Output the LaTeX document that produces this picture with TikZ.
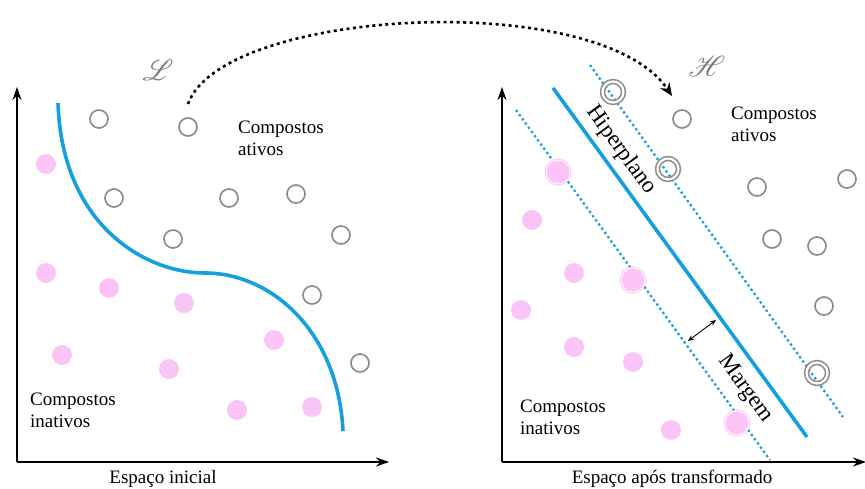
\documentclass[tikz,border=0pt]{standalone}
\usepackage{fontspec}
\setmainfont{Liberation Serif}
\usepackage{mathrsfs}
\usepackage{graphicx}
\usetikzlibrary{arrows.meta}
\definecolor{cblue}{RGB}{20,160,220}
\definecolor{cpink}{RGB}{250,196,246}
\definecolor{cgray}{RGB}{140,140,140}
\definecolor{cscript}{RGB}{120,120,120}
\tikzset{
  hollow/.style={circle, draw=cgray, line width=1.7pt, minimum size=18pt, inner sep=0pt},
  pinkdot/.style={circle, fill=cpink, minimum size=20pt, inner sep=0pt},
  svgray/.style={circle, draw=cgray, line width=1.6pt, double=white, double distance=2.2pt, minimum size=21pt, inner sep=0pt},
  svpink/.style={circle, fill=cpink, draw=cpink, line width=1pt, double=white, double distance=0.8pt, minimum size=24pt, inner sep=0pt},
  axisline/.style={line width=1.6pt, -{Stealth[length=13pt,width=9pt]}},
  lbl/.style={font=\fontsize{19}{22}\selectfont, align=left, inner sep=0pt},
  axlbl/.style={font=\fontsize{19}{22}\selectfont, inner sep=0pt},
  boundary/.style={draw=cblue, line width=3.6pt},
  margline/.style={draw=cblue, line width=2.3pt, dash pattern=on 2.3pt off 2.9pt},
  onlinelbl/.style={font=\fontsize{23}{26}\selectfont, inner sep=0pt, rotate=-54},
  scriptlbl/.style={text=cscript, inner sep=0pt}
}
\begin{document}
\begin{tikzpicture}[x=1pt,y=-1pt]
\useasboundingbox (0,0) rectangle (865,489);
% ---------- left panel ----------
\coordinate (lo) at (17,462);
\coordinate (lx) at (389,462);
\coordinate (ly) at (17,87);
\draw[axisline] (lo) -- (lx);
\draw[axisline] (lo) -- (ly);
\node[axlbl] (lxl) at (163,479) {Espaço inicial};

\coordinate (c0) at (58,103);
\coordinate (c1) at (205,273);
\coordinate (c2) at (343,431);
\draw[boundary] (c0) .. controls (62,225) and (145,273) .. (c1) .. controls (270,273) and (338,330) .. (c2);

\foreach \p [count=\i] in {(99,119),(188,127),(114,198),(229,198),(296,194),(341,235),(173,239),(312,295),(360,363)}
  \node[hollow] (lh\i) at \p {};
\foreach \p [count=\i] in {(46,164),(46,273),(109,288),(184,303),(274,340),(62,355),(169,369),(237,410),(312,407)}
  \node[pinkdot] (lp\i) at \p {};

\node[lbl, anchor=north west] (la) at (238,121) {Compostos\\ativos};
\node[lbl, anchor=north west] (li) at (30,393) {Compostos\\inativos};
\node[scriptlbl] (L) at (158,70) {\scalebox{2.9}{$\mathscr{L}$}};

% ---------- right panel ----------
\coordinate (ro) at (502,462);
\coordinate (rx) at (866,462);
\coordinate (ry) at (502,87);
\draw[axisline] (ro) -- (rx);
\draw[axisline] (ro) -- (ry);
\node[axlbl] (rxl) at (672,479) {Espaço após transformado};

\coordinate (hp1) at (553,88);
\coordinate (hp2) at (807,437);
\coordinate (up1) at (590,65);
\coordinate (up2) at (843,417);
\coordinate (lw1) at (516,110);
\coordinate (lw2) at (770,460);
\draw[margline] (up1) -- (up2);
\draw[margline] (lw1) -- (lw2);
\draw[boundary] (hp1) -- (hp2);

\foreach \p [count=\i] in {(682,119),(757,187),(847,179),(772,239),(817,246),(824,306)}
  \node[hollow] (rh\i) at \p {};
\foreach \p [count=\i] in {(613,92),(668,169),(817,373)}
  \node[svgray] (rs\i) at \p {};
\foreach \p [count=\i] in {(532,220),(574,273),(521,310),(574,347),(633,362),(671,430)}
  \node[pinkdot] (rp\i) at \p {};
\foreach \p [count=\i] in {(558,172),(633,280),(737,423)}
  \node[svpink] (rq\i) at \p {};

\node[onlinelbl] (hip) at (621,150) {Hiperplano};
\node[onlinelbl] (marg) at (745,389) {Margem};

\coordinate (m1) at (688,341);
\coordinate (m2) at (716,320);
\draw[line width=0.9pt, {Stealth[length=6pt,width=5pt]}-{Stealth[length=6pt,width=5pt]}] (m1) -- (m2);

\node[lbl, anchor=north west] (ra) at (731,107) {Compostos\\ativos};
\node[lbl, anchor=north west] (ri) at (520,400) {Compostos\\inativos};
\node[scriptlbl] (H) at (707,66) {\scalebox{2.9}{$\mathscr{H}$}};

% ---------- transformation arrow ----------
\coordinate (t0) at (188,104);
\coordinate (t1) at (672,96);
\draw[line width=2.6pt, dash pattern=on 3pt off 3.5pt, -{Stealth[length=13pt,width=11pt]}] (t0) .. controls (222,8) and (600,-12) .. (t1);
\end{tikzpicture}
\end{document}
